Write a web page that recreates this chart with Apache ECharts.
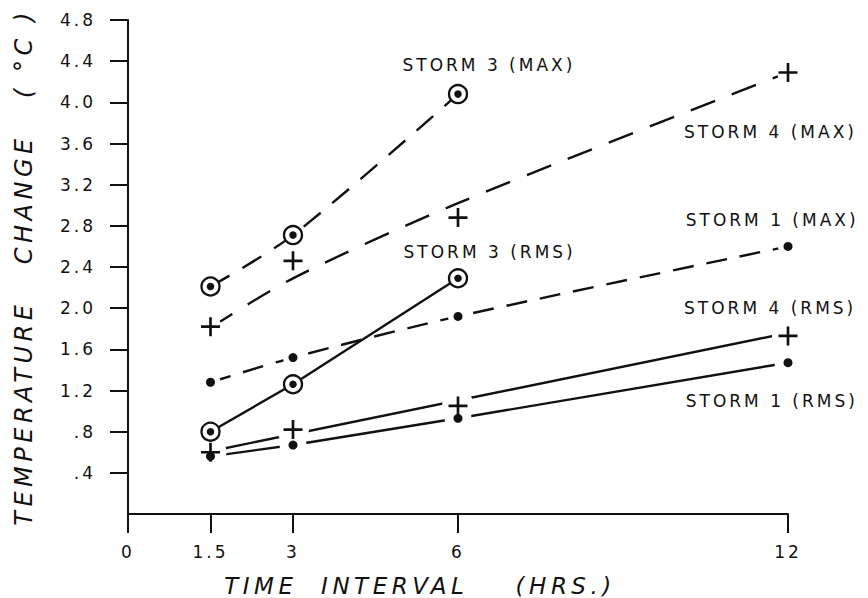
<!DOCTYPE html>
<html>
<head>
<meta charset="utf-8">
<script src="https://cdn.jsdelivr.net/npm/echarts@6/dist/echarts.min.js"></script>
<style>
  html, body { margin: 0; padding: 0; background: #fff; }
  #chart { width: 868px; height: 598px; }
  #chart text { letter-spacing: 3px; }
  #chart text[style*="23px"], #chart text[style*="24px"] { letter-spacing: 4.5px; }
</style>
</head>
<body>
<div id="chart"></div>
<script>
// ---- data ----
const xTicks = [0, 1.5, 3, 6, 12];
const xTickLabels = ['0', '1.5', '3', '6', '12'];
const yTicks = [0.4, 0.8, 1.2, 1.6, 2.0, 2.4, 2.8, 3.2, 3.6, 4.0, 4.4, 4.8];
const yTickLabels = ['.4', '.8', '1.2', '1.6', '2.0', '2.4', '2.8', '3.2', '3.6', '4.0', '4.4', '4.8'];

const storm3Time = [1.5, 3, 6];
const storm3Max = [2.21, 2.71, 4.08];
const storm3Rms = [0.80, 1.26, 2.29];

const stormTime = [1.5, 3, 6, 12];
const storm4Max = [1.82, 2.46, 2.88, 4.29];
const storm4MaxFit = [1.81, 2.29, 3.02, 4.29];
const storm4Rms = [0.60, 0.82, 1.05, 1.73];
const storm4RmsFitTime = [1.5, 12];
const storm4RmsFit = [0.61, 1.76];
const storm1Max = [1.28, 1.52, 1.92, 2.60];
const storm1Rms = [0.56, 0.67, 0.93, 1.47];

const labelNames = ['STORM 3 (MAX)', 'STORM 3 (RMS)', 'STORM 4 (MAX)', 'STORM 1 (MAX)', 'STORM 4 (RMS)', 'STORM 1 (RMS)'];
const labelX = [4.99, 5.01, 10.11, 10.14, 10.11, 10.14];
const labelY = [4.36, 2.55, 3.71, 2.86, 2.00, 1.10];

// ---- build ----
const INK = '#111';
const pts = (xs, ys) => xs.map((x, i) => [x, ys[i]]);
const CROSS = 'path://M8.6,0H11.4V8.6H20V11.4H11.4V20H8.6V11.4H0V8.6H8.6Z';

function lineSeries(data, dash, smooth) {
  return {
    type: 'line', data: data, showSymbol: false, smooth: smooth || false,
    silent: true, z: 1,
    lineStyle: { color: INK, width: 2.4, type: dash || 'solid', opacity: 1 }
  };
}
function scatterSeries(data, symbol, size, style, z) {
  return {
    type: 'scatter', silent: true, z: z, symbol: symbol, symbolSize: size,
    itemStyle: Object.assign({ opacity: 1 }, style),
    emphasis: { disabled: true },
    data: data
  };
}

const chart = echarts.init(document.getElementById('chart'), null, { renderer: 'svg' });
const option = {
  animation: false,
  backgroundColor: '#fff',
  grid: { left: 128, right: 80, top: 20, bottom: 84, outerBoundsMode: 'none', containLabel: false },
  xAxis: {
    type: 'value', min: 0, max: 12,
    name: 'TIME  INTERVAL    (HRS.)', nameLocation: 'middle', nameGap: 60,
    nameTextStyle: { fontFamily: 'DejaVu Sans', fontStyle: 'italic', fontSize: 23, color: INK, padding: [0, 76, 0, 0] },
    axisLine: { show: true, lineStyle: { color: INK, width: 2 } },
    axisTick: { show: true, inside: false, length: 19, customValues: xTicks, lineStyle: { color: INK, width: 2 } },
    axisLabel: {
      customValues: xTicks, margin: 29, color: INK, fontFamily: 'DejaVu Sans', fontSize: 17,
      formatter: v => { const i = xTicks.findIndex(t => Math.abs(t - v) < 1e-6); return i >= 0 ? xTickLabels[i] : ''; }
    },
    splitLine: { show: false }
  },
  yAxis: {
    type: 'value', min: 0, max: 4.8,
    name: 'TEMPERATURE   CHANGE   ( °C )', nameLocation: 'middle', nameGap: 92, nameRotate: 90,
    nameTextStyle: { fontFamily: 'DejaVu Sans', fontStyle: 'italic', fontSize: 24, color: INK },
    axisLine: { show: true, lineStyle: { color: INK, width: 2 } },
    axisTick: { show: true, inside: false, length: 18, customValues: yTicks, lineStyle: { color: INK, width: 2 } },
    axisLabel: {
      customValues: yTicks, margin: 32, color: INK, fontFamily: 'DejaVu Sans', fontSize: 17,
      formatter: v => { const i = yTicks.findIndex(t => Math.abs(t - v) < 1e-6); return i >= 0 ? yTickLabels[i] : ''; }
    },
    splitLine: { show: false }
  },
  series: [
    lineSeries(pts(storm3Time, storm3Max), [22, 15], 0.3),
    lineSeries(pts(storm3Time, storm3Rms), 'solid', false),
    lineSeries(pts(stormTime, storm4MaxFit), [26, 18], 0.3),
    lineSeries(pts(storm4RmsFitTime, storm4RmsFit), 'solid', false),
    lineSeries(pts(stormTime, storm1Max), [21, 13], 0.3),
    lineSeries(pts(stormTime, storm1Rms), 'solid', false),
    // white halos (gaps in lines around markers)
    scatterSeries(pts(stormTime, storm4Max), 'circle', 22, { color: '#fff' }, 10),
    scatterSeries(pts(stormTime, storm1Max), 'circle', 20, { color: '#fff' }, 10),
    scatterSeries(pts(stormTime, storm4Rms), 'circle', 32, { color: '#fff' }, 10),
    scatterSeries(pts(stormTime, storm1Rms), 'circle', 27, { color: '#fff' }, 10),
    // rings (storm 3)
    scatterSeries([].concat(pts(storm3Time, storm3Max), pts(storm3Time, storm3Rms)),
      'circle', 18, { color: '#fff', borderColor: INK, borderWidth: 2.3 }, 11),
    // ring centres
    scatterSeries([].concat(pts(storm3Time, storm3Max), pts(storm3Time, storm3Rms)),
      'circle', 7.5, { color: INK }, 12),
    // crosses (storm 4)
    scatterSeries([].concat(pts(stormTime, storm4Max), pts(stormTime, storm4Rms)),
      CROSS, 19, { color: INK }, 12),
    // dots (storm 1)
    scatterSeries([].concat(pts(stormTime, storm1Max), pts(stormTime, storm1Rms)),
      'circle', 9, { color: INK }, 12),
    { // curve labels
      type: 'scatter', silent: true, z: 13, symbolSize: 0,
      itemStyle: { opacity: 1 },
      label: {
        show: true, position: 'right', distance: 0, color: INK, opacity: 1,
        fontFamily: 'DejaVu Sans', fontSize: 17,
        formatter: p => p.name
      },
      data: labelNames.map((n, i) => ({ name: n, value: [labelX[i], labelY[i]] }))
    }
  ]
};
chart.setOption(option);
</script>
</body>
</html>
